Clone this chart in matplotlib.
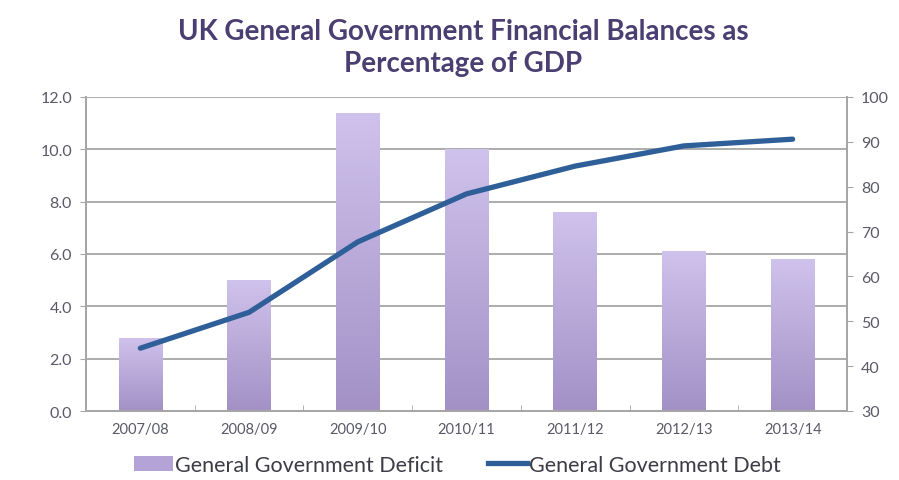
import numpy as np
import matplotlib
matplotlib.use("Agg")
import matplotlib.pyplot as plt
from matplotlib.lines import Line2D
from matplotlib.patches import Patch

plt.rcParams['font.family'] = ['Lato', 'DejaVu Sans']

years = ["2007/08", "2008/09", "2009/10", "2010/11", "2011/12", "2012/13", "2013/14"]
deficit = [2.8, 5.0, 11.4, 10.0, 7.6, 6.1, 5.8]
debt = [44.0, 52.0, 67.7, 78.4, 84.6, 89.1, 90.6]
left_ticks = [0, 2, 4, 6, 8, 10, 12]
right_ticks = [30, 40, 50, 60, 70, 80, 90, 100]

grid_c = "#a6a6a6"
text_c = "#595968"
title_c = "#4b3f72"
line_c = "#2f5f98"

fig = plt.figure(figsize=(8.99, 4.81), dpi=100)
ax = fig.add_axes([86 / 899, 1 - 412 / 481, (847 - 86) / 899, (412 - 98) / 481])
ax2 = ax.twinx()

x = np.arange(len(years))
bars = ax.bar(x, deficit, width=0.4, color="#b9a9dc", zorder=2)

# vertical gradient inside each bar
grad = np.linspace(0, 1, 256).reshape(-1, 1)
cmap = matplotlib.colors.LinearSegmentedColormap.from_list("bar", ["#a391c6", "#cfc2ec"])
for b in bars:
    x0, y0 = b.get_x(), b.get_y()
    w, h = b.get_width(), b.get_height()
    im = ax.imshow(grad, cmap=cmap, origin="lower", aspect="auto",
                   extent=[x0, x0 + w, y0, y0 + h], zorder=2.1)
    im.set_clip_path(b)

ax.set_xlim(-0.5, len(years) - 0.5)
ax.set_ylim(0, 12)
ax.set_yticks(left_ticks)
ax.set_yticklabels([f"{v:.1f}" for v in left_ticks])
ax.set_xticks(x)
ax.set_xticklabels(years)
ax.set_xticks(np.arange(len(years) + 1) - 0.5, minor=True)
ax.tick_params(axis="x", which="major", length=0, pad=8, labelsize=10.5, labelcolor=text_c)
ax.tick_params(axis="x", which="minor", length=4, color=grid_c, direction="in")
ax.tick_params(axis="y", length=4, color=grid_c, labelsize=11.5, labelcolor=text_c, pad=6)
ax.yaxis.grid(True, color=grid_c, linewidth=1.3, zorder=0)
ax.set_axisbelow(True)

ax2.plot(x, debt, color=line_c, linewidth=3.8, solid_capstyle="round",
         solid_joinstyle="round", zorder=5)
ax2.set_ylim(30, 100)
ax2.set_yticks(right_ticks)
ax2.tick_params(axis="y", length=4, color=grid_c, labelsize=11.5, labelcolor=text_c, pad=6)

for a in (ax, ax2):
    for side in ("left", "right", "bottom"):
        a.spines[side].set_color(grid_c)
        a.spines[side].set_linewidth(1.3)
    a.spines["top"].set_visible(False)

title_x = 463 / 899
fig.text(title_x, 1 - 32 / 481, "UK General Government Financial Balances as",
         ha="center", va="center", fontsize=20, fontweight="bold", color=title_c)
fig.text(title_x, 1 - 64 / 481, "Percentage of GDP",
         ha="center", va="center", fontsize=20, fontweight="bold", color=title_c)

handles = [Patch(facecolor="#b3a3d6", edgecolor="none"),
           Line2D([0], [0], color=line_c, linewidth=3.8)]
fig.legend(handles, ["General Government Deficit", "General Government Debt"],
           loc="center", bbox_to_anchor=(0.5 + 8 / 899, 1 - 466 / 481), ncol=2, frameon=False,
           fontsize=15.5, labelcolor="#3c3c46", handlelength=1.8, handletextpad=0.1,
           columnspacing=2.1)

fig.savefig("out.png", dpi=100, facecolor="white")
